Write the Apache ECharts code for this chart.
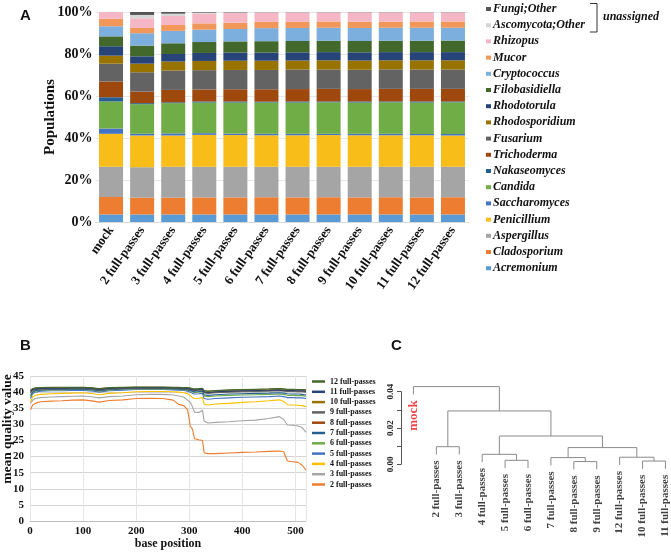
<!DOCTYPE html>
<html>
<head>
<meta charset="utf-8">
<script src="https://cdn.jsdelivr.net/npm/echarts@6/dist/echarts.min.js"></script>
<style>
html, body { margin: 0; padding: 0; background: #fff; }
#chart { width: 671px; height: 554px; }
</style>
</head>
<body>
<div id="chart"></div>
<script>
// ---------- Panel A: genus composition per sample ----------
const samples = ['mock', '2 full-passes', '3 full-passes', '4 full-passes', '5 full-passes', '6 full-passes',
    '7 full-passes', '8 full-passes', '9 full-passes', '10 full-passes', '11 full-passes', '12 full-passes'];

const acremonium     = [3.6, 3.6, 3.6, 3.6, 3.6, 3.6, 3.6, 3.6, 3.6, 3.6, 3.6, 3.6];
const cladosporium   = [8.3, 8.0, 8.0, 8.1, 8.1, 8.2, 8.1, 8.2, 8.1, 8.2, 8.1, 8.2];
const aspergillus    = [14.4, 14.5, 14.7, 14.6, 14.6, 14.5, 14.6, 14.5, 14.6, 14.5, 14.6, 14.5];
const penicillium    = [15.7, 15.1, 14.9, 15.2, 15.1, 15.0, 15.0, 15.1, 15.0, 15.0, 15.0, 14.9];
const saccharomyces  = [2.5, 0.8, 1.0, 0.8, 0.7, 0.7, 0.7, 0.6, 0.7, 0.7, 0.6, 0.7];
const candida        = [12.9, 14.1, 14.4, 14.6, 14.8, 14.9, 14.9, 15.0, 14.9, 15.0, 15.0, 15.1];
const nakaseomyces   = [2.0, 0.5, 0.4, 0.5, 0.5, 0.4, 0.5, 0.4, 0.5, 0.4, 0.5, 0.4];
const trichoderma    = [7.5, 5.5, 5.9, 5.7, 5.8, 5.9, 5.9, 6.0, 5.9, 6.0, 6.0, 6.0];
const fusarium       = [8.5, 9.2, 9.2, 9.2, 9.2, 9.2, 9.3, 9.2, 9.2, 9.3, 9.2, 9.2];
const rhodosporidium = [3.8, 4.1, 4.3, 4.4, 4.4, 4.4, 4.3, 4.4, 4.4, 4.3, 4.4, 4.4];
const rhodotorula    = [4.5, 3.5, 3.6, 3.8, 3.9, 3.9, 3.9, 3.9, 3.9, 3.9, 3.9, 3.9];
const filobasidiella = [4.7, 5.1, 5.1, 5.2, 5.3, 5.4, 5.4, 5.4, 5.4, 5.4, 5.4, 5.5];
const cryptococcus   = [4.8, 5.9, 5.9, 5.9, 5.9, 6.2, 6.2, 6.2, 6.2, 6.2, 6.2, 6.1];
const mucor          = [3.6, 2.5, 2.8, 3.0, 3.0, 3.0, 2.9, 3.0, 3.0, 2.9, 3.0, 3.0];
const rhizopus       = [3.2, 4.6, 4.3, 4.6, 4.6, 4.4, 4.4, 4.2, 4.4, 4.4, 4.2, 4.3];
const ascomycotaOther = [0, 1.6, 1.1, 0.5, 0.3, 0.2, 0.2, 0.2, 0.1, 0.1, 0.2, 0.1];
const fungiOther     = [0, 1.4, 0.8, 0.3, 0.2, 0.1, 0.1, 0.1, 0.1, 0.1, 0.1, 0.1];

// bottom of the stack first
const genera = [
    ['Acremonium', acremonium, '#5b9bd5'],
    ['Cladosporium', cladosporium, '#ed7d31'],
    ['Aspergillus', aspergillus, '#a5a5a5'],
    ['Penicillium', penicillium, '#f8bd19'],
    ['Saccharomyces', saccharomyces, '#4472c4'],
    ['Candida', candida, '#70ad47'],
    ['Nakaseomyces', nakaseomyces, '#255e91'],
    ['Trichoderma', trichoderma, '#9e480e'],
    ['Fusarium', fusarium, '#636363'],
    ['Rhodosporidium', rhodosporidium, '#997300'],
    ['Rhodotorula', rhodotorula, '#264478'],
    ['Filobasidiella', filobasidiella, '#43682b'],
    ['Cryptococcus', cryptococcus, '#7cafdd'],
    ['Mucor', mucor, '#f1975a'],
    ['Rhizopus', rhizopus, '#f5b7c5'],
    ['Ascomycota;Other', ascomycotaOther, '#d6d6d6'],
    ['Fungi;Other', fungiOther, '#555555']
];

// ---------- Panel B: mean quality per base position ----------
const basePositions = [1, 5, 10, 20, 40, 60, 80, 100, 120, 130, 150, 175, 200, 225, 250, 270, 280, 290, 297,
    302, 306, 310, 318, 325, 328, 335, 350, 375, 400, 425, 450, 470, 478, 485, 495, 505, 513, 520];

const q2  = [34.5, 36.0, 36.5, 37.0, 37.2, 37.3, 37.5, 37.6, 37.2, 36.9, 37.4, 37.6, 38.0, 38.1, 38.0, 37.5, 36.2, 35.8, 34.5, 29.5, 28.5, 25.5, 25.2, 25.0, 21.2, 20.9, 20.9, 21.1, 21.3, 21.4, 21.6, 21.7, 21.5, 18.6, 18.4, 18.2, 17.3, 15.8];
const q3  = [36.5, 37.5, 38.0, 38.3, 38.5, 38.6, 38.7, 38.8, 38.5, 38.2, 38.6, 38.8, 39.2, 39.3, 39.3, 39.1, 38.8, 38.4, 37.5, 36.8, 35.5, 33.8, 33.7, 34.4, 31.0, 30.4, 30.6, 30.8, 31.1, 31.3, 31.8, 32.4, 31.5, 29.8, 29.7, 29.5, 29.0, 27.5];
const q4  = [37.0, 38.5, 39.0, 39.3, 39.5, 39.6, 39.7, 39.8, 39.5, 39.2, 39.6, 39.8, 40.1, 40.2, 40.2, 40.1, 40.0, 39.8, 39.5, 39.0, 38.3, 38.0, 38.1, 38.3, 36.3, 36.0, 36.3, 36.5, 36.8, 37.0, 37.3, 37.6, 37.1, 36.1, 36.0, 35.9, 35.8, 35.5];
const q5  = [38.0, 39.5, 40.0, 40.3, 40.4, 40.4, 40.5, 40.5, 40.3, 40.0, 40.4, 40.6, 40.8, 40.8, 40.8, 40.7, 40.6, 40.5, 40.3, 40.0, 39.6, 39.4, 39.5, 39.6, 38.0, 37.8, 38.0, 38.2, 38.4, 38.5, 38.6, 38.8, 38.6, 38.3, 38.3, 38.2, 38.2, 38.0];
const q6  = [38.5, 39.8, 40.3, 40.6, 40.7, 40.7, 40.8, 40.8, 40.6, 40.3, 40.7, 40.9, 41.0, 41.0, 41.0, 40.9, 40.8, 40.7, 40.6, 40.4, 40.1, 39.9, 40.0, 40.1, 38.8, 38.6, 38.8, 39.0, 39.1, 39.2, 39.3, 39.4, 39.3, 39.0, 39.0, 38.9, 38.9, 38.7];
const q7  = [39.0, 40.0, 40.5, 40.7, 40.8, 40.8, 40.9, 40.9, 40.7, 40.4, 40.8, 41.0, 41.1, 41.1, 41.1, 41.0, 40.9, 40.8, 40.7, 40.5, 40.3, 40.1, 40.2, 40.3, 39.2, 39.0, 39.2, 39.4, 39.5, 39.6, 39.7, 39.8, 39.7, 39.5, 39.4, 39.4, 39.3, 39.1];
const q8  = [40.0, 40.6, 40.9, 41.0, 41.1, 41.1, 41.2, 41.2, 41.0, 40.7, 41.1, 41.2, 41.3, 41.3, 41.3, 41.2, 41.2, 41.1, 41.0, 40.9, 40.7, 40.6, 40.7, 40.8, 40.0, 39.8, 40.0, 40.2, 40.3, 40.4, 40.5, 40.6, 40.5, 40.4, 40.4, 40.3, 40.3, 40.2];
const q9  = [39.8, 40.5, 40.8, 40.9, 41.0, 41.0, 41.1, 41.1, 40.9, 40.6, 41.0, 41.1, 41.2, 41.2, 41.2, 41.1, 41.1, 41.0, 40.9, 40.8, 40.6, 40.5, 40.6, 40.7, 39.8, 39.6, 39.8, 40.0, 40.1, 40.2, 40.3, 40.4, 40.3, 40.2, 40.2, 40.1, 40.1, 40.0];
const q10 = [40.5, 41.0, 41.2, 41.3, 41.4, 41.4, 41.4, 41.4, 41.2, 41.0, 41.3, 41.4, 41.5, 41.5, 41.5, 41.4, 41.4, 41.3, 41.3, 41.2, 41.0, 40.9, 41.0, 41.1, 40.4, 40.2, 40.4, 40.6, 40.7, 40.8, 40.9, 41.0, 40.9, 40.8, 40.8, 40.7, 40.7, 40.6];
const q11 = [40.2, 40.8, 41.0, 41.1, 41.2, 41.2, 41.3, 41.3, 41.1, 40.8, 41.2, 41.3, 41.4, 41.4, 41.4, 41.3, 41.3, 41.2, 41.1, 41.0, 40.8, 40.7, 40.8, 40.9, 40.1, 39.9, 40.1, 40.3, 40.4, 40.5, 40.6, 40.7, 40.6, 40.5, 40.5, 40.4, 40.4, 40.3];
const q12 = [40.6, 41.1, 41.3, 41.4, 41.5, 41.5, 41.5, 41.5, 41.3, 41.1, 41.4, 41.5, 41.6, 41.6, 41.6, 41.5, 41.5, 41.4, 41.4, 41.3, 41.1, 41.0, 41.1, 41.2, 40.5, 40.3, 40.5, 40.7, 40.8, 40.9, 41.0, 41.1, 41.0, 40.9, 40.9, 40.8, 40.8, 40.7];

const qualitySeries = [
    ['2 full-passes', q2, '#ed7d31'],
    ['3 full-passes', q3, '#a5a5a5'],
    ['4 full-passes', q4, '#ffc000'],
    ['5 full-passes', q5, '#4472c4'],
    ['6 full-passes', q6, '#70ad47'],
    ['7 full-passes', q7, '#255e91'],
    ['8 full-passes', q8, '#9e480e'],
    ['9 full-passes', q9, '#636363'],
    ['10 full-passes', q10, '#997300'],
    ['11 full-passes', q11, '#264478'],
    ['12 full-passes', q12, '#43682b']
];

// ---------- Panel C: hierarchical clustering ----------
const leafLabels = ['mock', '2 full-passes', '3 full-passes', '4 full-passes', '5 full-passes', '6 full-passes',
    '7 full-passes', '8 full-passes', '9 full-passes', '12 full-passes', '10 full-passes', '11 full-passes'];
// [left, right, height]; negative = leaf number (1-based, in leafLabels order), positive = earlier merge
const merges = [
    [-2, -3, 0.0097],
    [-5, -6, 0.0022],
    [-4, 2, 0.0055],
    [-8, -9, 0.0015],
    [-7, 4, 0.0037],
    [-11, -12, 0.0018],
    [-10, 6, 0.0039],
    [5, 7, 0.0092],
    [3, 8, 0.0156],
    [1, 9, 0.0294],
    [-1, 10, 0.0428]
];

// ---------------------------------------------------------
const serif = 'Liberation Serif';

const hang = 0.1 * Math.max(...merges.map(m => m[2]));
const mergeX = [];
const leafEnds = [];
const dendroLines = merges.map((m, k) => {
    const child = (ref, h) => {
        if (ref < 0) {
            const x = -ref;
            leafEnds.push({ name: leafLabels[x - 1], value: [x, h - hang] });
            return [x, h - hang];
        }
        return [mergeX[ref - 1], merges[ref - 1][2]];
    };
    const a = child(m[0], m[2]);
    const b = child(m[1], m[2]);
    mergeX[k] = (a[0] + b[0]) / 2;
    return { coords: [a, [a[0], m[2]], [b[0], m[2]], b] };
});

// pixel layout of the dendrogram height scale
const cZeroY = 464.3;
const cPxPerUnit = 1815;
const cMin = -0.006, cMax = 0.046;

const myChart = echarts.init(document.getElementById('chart'));

const barSeries = genera.map(([name, values, color]) => ({
    name: name,
    type: 'bar',
    stack: 'total',
    xAxisIndex: 0,
    yAxisIndex: 0,
    barWidth: 24,
    itemStyle: { color: color },
    data: values
}));

const lineSeries = qualitySeries.map(([name, values, color]) => ({
    name: name,
    type: 'line',
    xAxisIndex: 1,
    yAxisIndex: 1,
    showSymbol: false,
    color: color,
    lineStyle: { width: 1.1 },
    data: basePositions.map((p, i) => [p, values[i]])
}));

const option = {
    animation: false,
    textStyle: { fontFamily: serif },
    grid: [
        { left: 95.5, top: 12, width: 373, height: 210, outerBoundsMode: 'none' },
        { left: 30, top: 376, width: 276, height: 145, outerBoundsMode: 'none' },
        { left: 402, top: cZeroY - cMax * cPxPerUnit, width: 268.5, height: (cMax - cMin) * cPxPerUnit, outerBoundsMode: 'none' },
        { left: 401, top: cZeroY - 0.04 * cPxPerUnit, width: 1, height: 0.04 * cPxPerUnit, outerBoundsMode: 'none' }
    ],
    legend: [
        {
            orient: 'vertical',
            left: 486,
            top: 3,
            padding: 0,
            icon: 'rect',
            itemWidth: 5,
            itemHeight: 4,
            itemGap: 4.2,
            selectedMode: false,
            data: genera.map(g => g[0]).reverse(),
            textStyle: { fontFamily: serif, fontSize: 12, lineHeight: 12, fontWeight: 'bold', fontStyle: 'italic', color: '#111', padding: [0, 0, 0, -3] }
        },
        {
            orient: 'vertical',
            left: 312,
            top: 377.5,
            padding: 0,
            icon: 'rect',
            itemWidth: 13,
            itemHeight: 2.5,
            itemGap: 2.3,
            selectedMode: false,
            data: qualitySeries.map(s => s[0]).reverse(),
            textStyle: { fontFamily: serif, fontSize: 8, lineHeight: 8, fontWeight: 'bold', color: '#111' }
        }
    ],
    xAxis: [
        {
            type: 'category',
            gridIndex: 0,
            data: samples,
            axisLine: { lineStyle: { color: '#d9d9d9' } },
            axisTick: { show: false },
            axisLabel: { rotate: 55, margin: 6, fontFamily: serif, fontSize: 13, fontWeight: 'bold', color: '#111', interval: 0 }
        },
        {
            type: 'value',
            gridIndex: 1,
            min: 0,
            max: 520,
            interval: 100,
            name: 'base position',
            nameLocation: 'middle',
            nameGap: 17,
            nameTextStyle: { fontFamily: serif, fontSize: 12, fontWeight: 'bold', color: '#111' },
            axisLine: { lineStyle: { color: '#bfbfbf' } },
            axisTick: { show: false },
            axisLabel: { fontFamily: serif, fontSize: 11, fontWeight: 'bold', color: '#111', margin: 5, showMaxLabel: false },
            splitLine: { show: true, lineStyle: { color: '#e6e6e6' } }
        },
        { type: 'value', gridIndex: 2, min: 0.5, max: 12.22, show: false },
        { type: 'value', gridIndex: 3, min: 0, max: 1, show: false }
    ],
    yAxis: [
        {
            type: 'value',
            gridIndex: 0,
            min: 0,
            max: 100,
            interval: 20,
            name: 'Populations',
            nameLocation: 'middle',
            nameGap: 38,
            nameMoveOverlap: false,
            nameTextStyle: { fontFamily: serif, fontSize: 15, fontWeight: 'bold', color: '#111' },
            axisLine: { show: false },
            axisTick: { show: false },
            axisLabel: { formatter: '{value}%', fontFamily: serif, fontSize: 14, fontWeight: 'bold', color: '#111', margin: 3 },
            splitLine: { lineStyle: { color: '#e6e6e6' } }
        },
        {
            type: 'value',
            gridIndex: 1,
            min: 0,
            max: 45,
            interval: 5,
            axisLine: { show: false },
            axisTick: { show: false },
            axisLabel: { fontFamily: serif, fontSize: 11, fontWeight: 'bold', color: '#111', margin: 6 },
            splitLine: { lineStyle: { color: '#d4d4d4' } }
        },
        { type: 'value', gridIndex: 2, min: cMin, max: cMax, show: false },
        {
            type: 'value',
            gridIndex: 3,
            min: 0,
            max: 0.04,
            interval: 0.01,
            axisLine: { show: true, lineStyle: { color: '#555' } },
            axisTick: { show: true, length: 4, lineStyle: { color: '#555' } },
            axisLabel: {
                rotate: 90,
                margin: 6,
                fontFamily: serif,
                fontSize: 9,
                fontWeight: 'bold',
                color: '#222',
                formatter: v => (Math.round(v * 100) % 2 === 0 ? v.toFixed(2) : '')
            },
            splitLine: { show: false }
        }
    ],
    series: [
        ...barSeries,
        ...lineSeries,
        {
            name: 'dendrogram',
            type: 'lines',
            coordinateSystem: 'cartesian2d',
            xAxisIndex: 2,
            yAxisIndex: 2,
            polyline: true,
            silent: true,
            lineStyle: { color: '#8a8a8a', width: 1, opacity: 1 },
            data: dendroLines
        },
        {
            name: 'leaves',
            type: 'scatter',
            xAxisIndex: 2,
            yAxisIndex: 2,
            symbolSize: 0,
            silent: true,
            data: leafEnds.map(d => ({
                name: d.name,
                value: d.value,
                label: d.name === 'mock'
                    ? { color: '#e8141b', fontSize: 13 }
                    : {}
            })),
            label: {
                show: true,
                position: 'bottom',
                distance: 6,
                rotate: 90,
                align: 'right',
                verticalAlign: 'middle',
                formatter: p => p.name,
                fontFamily: serif,
                fontSize: 11,
                fontWeight: 'bold',
                color: '#111'
            }
        }
    ],
    graphic: [
        { type: 'text', left: 20, top: 8, style: { text: 'A', font: 'bold 15px "Liberation Sans"', fill: '#111' } },
        { type: 'text', left: 20, top: 338, style: { text: 'B', font: 'bold 15px "Liberation Sans"', fill: '#111' } },
        { type: 'text', left: 391, top: 338, style: { text: 'C', font: 'bold 15px "Liberation Sans"', fill: '#111' } },
        {
            type: 'text',
            x: 7.5,
            y: 429,
            rotation: Math.PI / 2,
            style: { text: 'mean quality value', font: 'bold 13.5px "Liberation Serif"', fill: '#111', align: 'center', verticalAlign: 'middle' }
        },
        {
            type: 'polyline',
            shape: { points: [[590, 3.5], [597, 3.5], [597, 32], [590, 32]] },
            style: { stroke: '#333', lineWidth: 1, fill: null }
        },
        { type: 'text', left: 603, top: 11, style: { text: 'unassigned', font: 'italic bold 12px "Liberation Serif"', fill: '#111' } }
    ]
};

myChart.setOption(option);

window.onresize = function () {
    myChart.resize();
};
</script>
</body>
</html>
